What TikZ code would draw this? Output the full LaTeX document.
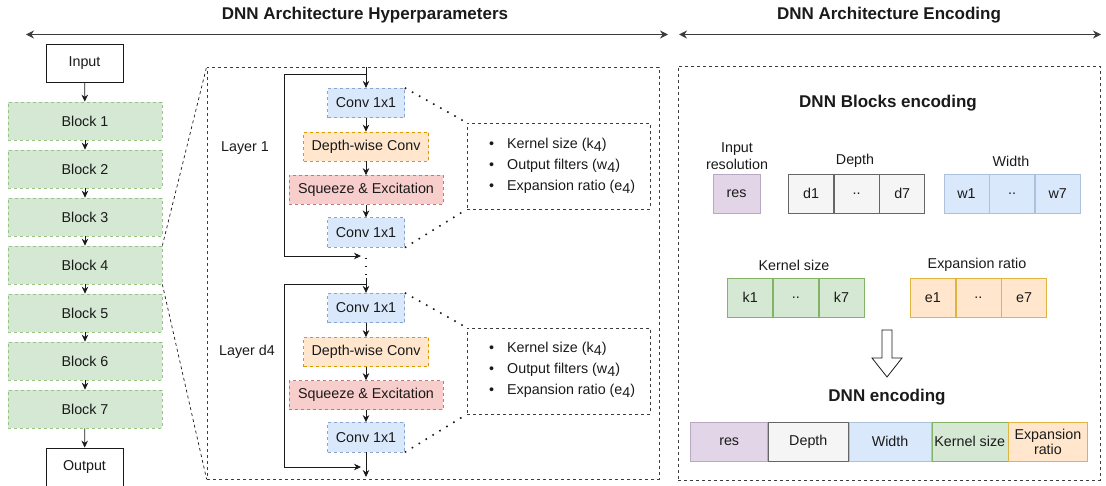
\documentclass[tikz,border=0pt]{standalone}
\usepackage{fontspec}
\setmainfont{Liberation Sans}
\usetikzlibrary{arrows.meta}
\definecolor{gfill}{HTML}{D5E8D4}\definecolor{gline}{HTML}{82B366}
\definecolor{bfill}{HTML}{DAE8FC}\definecolor{bline}{HTML}{6C8EBF}
\definecolor{ofill}{HTML}{FFE6CC}\definecolor{oline}{HTML}{D79B00}
\definecolor{rfill}{HTML}{F8CECC}\definecolor{rline}{HTML}{B85450}
\definecolor{pfill}{HTML}{E1D5E7}\definecolor{pline}{HTML}{B9A8C2}
\definecolor{yfill}{HTML}{F5F5F5}\definecolor{yline}{HTML}{666666}
\definecolor{ink}{HTML}{1A1A1A}
\newcommand{\sub}[1]{\raisebox{-3pt}{#1}}
\tikzset{
  txt/.style={font=\fontsize{14.3}{16.5}\selectfont, text=ink},
  ttl/.style={font=\fontsize{17}{20}\selectfont\bfseries, text=ink},
  dsh/.style={dash pattern=on 3pt off 3pt, line width=0.7pt},
  plainbox/.style={txt, draw=ink, line width=0.8pt, fill=white, minimum width=77pt, minimum height=38pt, inner sep=0pt},
  blockbox/.style={txt, draw=gline!80, dsh, fill=gfill, minimum width=154pt, minimum height=38pt, inner sep=0pt},
  convbox/.style={txt, draw=bline!80, dsh, fill=bfill, minimum width=77pt, minimum height=29.5pt, inner sep=0pt},
  dwbox/.style={txt, draw=oline, dsh, fill=ofill, minimum width=125pt, minimum height=29pt, inner sep=0pt},
  sebox/.style={txt, draw=rline!80, dsh, fill=rfill, minimum width=154pt, minimum height=29pt, inner sep=0pt},
  infobox/.style={draw=ink!85, dsh, minimum width=183pt, minimum height=86pt, inner sep=0pt},
  bigbox/.style={draw=ink!85, dsh},
  arr/.style={-{Stealth[length=7pt,width=6.5pt]}, line width=0.8pt, draw=ink},
  dots/.style={dash pattern=on 1.6pt off 6.5pt, line width=1.6pt, draw=ink},
  cell/.style={txt, minimum height=38.7pt, inner sep=0pt},
  gcell/.style={cell, draw=yline, fill=yfill, line width=0.6pt},
  bcell/.style={cell, draw=bline!55, fill=bfill, line width=0.6pt},
  kcell/.style={cell, draw=gline, fill=gfill, line width=0.6pt},
  ocell/.style={cell, draw=oline!75, fill=ofill, line width=0.6pt},
  pcell/.style={cell, draw=pline, fill=pfill, line width=0.6pt},
  bul/.style={txt, anchor=west, inner sep=0pt},
}
\begin{document}
\begin{tikzpicture}[x=1pt,y=-1pt]
\useasboundingbox (0,0) rectangle (1106,486);

% titles and header arrows
\node[ttl] (t1) at (365,15) {DNN Architecture Hyperparameters};
\node[ttl] (t2) at (889,15) {DNN Architecture Encoding};
\coordinate (h1l) at (26,34.5); \coordinate (h1r) at (668,34.5);
\coordinate (h2l) at (679,34.5); \coordinate (h2r) at (1101,34.5);
\draw[{Stealth[length=8pt,width=8pt]}-{Stealth[length=8pt,width=8pt]}, line width=1pt, draw=ink!85] (h1l) -- (h1r);
\draw[{Stealth[length=8pt,width=8pt]}-{Stealth[length=8pt,width=8pt]}, line width=1pt, draw=ink!85] (h2l) -- (h2r);

% left column
\node[plainbox] (in) at (84.5,63) {Input};
\foreach \i in {1,...,7}{
  \node[blockbox] (b\i) at (85,{121+48*(\i-1)}) {Block \i};
}
\node[plainbox] (out) at (84.5,467) {Output};
\draw[arr] (in) -- (b1);
\foreach \i/\j in {1/2,2/3,3/4,4/5,5/6,6/7}{ \draw[arr] (b\i) -- (b\j); }
\draw[arr] (b7) -- (out);

% hyperparameter box
\node[bigbox, minimum width=452pt, minimum height=412pt, inner sep=0pt] (hp) at (433,273) {};
\draw[dsh, draw=ink] (b4.north east) -- (hp.north west);
\draw[dsh, draw=ink] (b4.south east) -- (hp.south west);

% layer 1
\node[txt] (lab1) at (245,148) {Layer 1};
\node[convbox] (c1a) at (366,103) {Conv 1x1};
\node[dwbox] (dw1) at (366,146.5) {Depth-wise Conv};
\node[sebox] (se1) at (366,190) {Squeeze \& Excitation};
\node[convbox] (c1b) at (366,232.5) {Conv 1x1};
\node[infobox] (i1) at (558.5,166) {};
\node[bul] (i1a) at (489,145) {\makebox[18pt][l]{\textbullet}Kernel size (k\sub{4})};
\node[bul] (i1b) at (489,166) {\makebox[18pt][l]{\textbullet}Output filters (w\sub{4})};
\node[bul] (i1c) at (489,187) {\makebox[18pt][l]{\textbullet}Expansion ratio (e\sub{4})};
\draw[dots] (c1a.north east) -- (i1.north west);
\draw[dots] (c1b.south east) -- (i1.south west);
\coordinate (s1) at (366,67);
\coordinate (j1) at (366,74); \coordinate (l1t) at (284,74);
\coordinate (l1b) at (284,256); \coordinate (l1e) at (361,256);
\draw[arr] (s1) -- (c1a);
\draw[arr] (c1a) -- (dw1);
\draw[arr] (dw1) -- (se1);
\draw[arr] (se1) -- (c1b);
\draw[arr] (j1) -- (l1t) -- (l1b) -- (l1e);
\coordinate (mid) at (366,278);
\draw[dots] (c1b.south) ++(0,10) -- (mid);

% layer d4
\node[txt] (lab2) at (247,352) {Layer d4};
\node[convbox] (c2a) at (366,308) {Conv 1x1};
\node[dwbox] (dw2) at (366,352) {Depth-wise Conv};
\node[sebox] (se2) at (366,395) {Squeeze \& Excitation};
\node[convbox] (c2b) at (366,437.2) {Conv 1x1};
\node[infobox] (i2) at (558.5,371) {};
\node[bul] (i2a) at (489,349) {\makebox[18pt][l]{\textbullet}Kernel size (k\sub{4})};
\node[bul] (i2b) at (489,370) {\makebox[18pt][l]{\textbullet}Output filters (w\sub{4})};
\node[bul] (i2c) at (489,391) {\makebox[18pt][l]{\textbullet}Expansion ratio (e\sub{4})};
\draw[dots] (c2a.north east) -- (i2.north west);
\draw[dots] (c2b.south east) -- (i2.south west);
\draw[arr] (mid) -- (c2a);
\coordinate (j2) at (366,284); \coordinate (l2t) at (284,284);
\coordinate (l2b) at (284,467); \coordinate (l2e) at (361,467);
\draw[arr] (j2) -- (l2t) -- (l2b) -- (l2e);
\draw[arr] (c2a) -- (dw2);
\draw[arr] (dw2) -- (se2);
\draw[arr] (se2) -- (c2b);
\coordinate (e2) at (366,477);
\draw[arr] (c2b) -- (e2);

% encoding box
\node[bigbox, minimum width=422pt, minimum height=414pt, inner sep=0pt] (enc) at (889,273) {};
\node[ttl] (et) at (888,103) {DNN Blocks encoding};
\node[txt, align=center] (lres) at (737,156) {Input\\resolution};
\node[pcell, minimum width=47pt] (res) at (736.5,193.7) {res};
\node[txt] (ldep) at (855,161) {Depth};
\node[gcell, minimum width=45pt] (d1) at (811,193.7) {d1};
\node[gcell, minimum width=45pt, anchor=west] (d2) at (d1.east) {..};
\node[gcell, minimum width=45pt, anchor=west] (d3) at (d2.east) {d7};
\node[txt] (lwid) at (1011,161) {Width};
\node[bcell, minimum width=45pt] (w1) at (966.5,193.7) {w1};
\node[bcell, minimum width=45pt, anchor=west] (w2) at (w1.east) {..};
\node[bcell, minimum width=45pt, anchor=west] (w3) at (w2.east) {w7};
\node[txt] (lker) at (794,265) {Kernel size};
\node[kcell, minimum width=45pt] (k1) at (750.2,297.5) {k1};
\node[kcell, minimum width=45pt, anchor=west] (k2) at (k1.east) {..};
\node[kcell, minimum width=45pt, anchor=west] (k3) at (k2.east) {k7};
\node[txt] (lexp) at (977,265) {Expansion ratio};
\node[ocell, minimum width=45pt] (x1) at (932.8,297.5) {e1};
\node[ocell, minimum width=45pt, anchor=west] (x2) at (x1.east) {..};
\node[ocell, minimum width=45pt, anchor=west] (x3) at (x2.east) {e7};

% hollow arrow
\draw[draw=ink, line width=0.8pt, fill=white] (882,330) -- (892,330) -- (892,358) -- (902,358) -- (887,377) -- (872,358) -- (882,358) -- cycle;

\node[ttl] (ft) at (887,397) {DNN encoding};
\node[pcell, minimum width=77pt] (fr) at (729.2,441.7) {res};
\node[gcell, minimum width=80pt, anchor=west] (fd) at (fr.east) {Depth};
\node[bcell, minimum width=82.3pt, anchor=west] (fw) at (fd.east) {Width};
\node[kcell, minimum width=76pt, anchor=west] (fk) at (fw.east) {Kernel size};
\node[ocell, minimum width=79pt, anchor=west, align=center, font=\fontsize{14.3}{15.5}\selectfont] (fe) at (fk.east) {Expansion\\ratio};
\end{tikzpicture}
\end{document}
